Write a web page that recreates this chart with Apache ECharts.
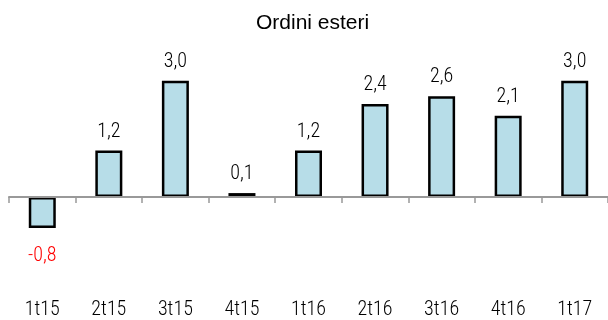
<!DOCTYPE html>
<html>
<head>
<meta charset="utf-8">
<script src="https://cdn.jsdelivr.net/npm/echarts@6/dist/echarts.min.js"></script>
<style>
  html, body { margin: 0; padding: 0; background: #fff; }
  #chart { width: 608px; height: 320px; }
</style>
</head>
<body>
<div id="chart"></div>
<script>
// Quarterly foreign orders, % change
const quarters = ['1t15', '2t15', '3t15', '4t15', '1t16', '2t16', '3t16', '4t16', '1t17'];
const ordiniEsteri = [-0.8, 1.2, 3.0, 0.1, 1.2, 2.4, 2.6, 2.1, 3.0];

const narrow = '"Roboto Condensed", "DejaVu Sans Condensed", sans-serif';
const fmt = v => v.toFixed(1).replace('.', ',');

const chart = echarts.init(document.getElementById('chart'));
chart.setOption({
  animation: false,
  title: {
    text: 'Ordini esteri',
    left: 256,
    top: 13,
    padding: 0,
    textStyle: { fontFamily: 'Arial, "Liberation Sans", sans-serif', fontSize: 21, fontWeight: 'normal', color: '#000' }
  },
  grid: { left: 9, right: -6, top: 61.5, bottom: 26.3 },
  xAxis: [
    {
      // zero line with ticks between categories
      type: 'category',
      data: quarters,
      z: 5,
      axisLine: { onZero: true, lineStyle: { color: '#999', width: 2 } },
      axisTick: { show: true, length: 6, lineStyle: { color: '#999', width: 1.5 } },
      axisLabel: { show: false }
    },
    {
      // quarter names along the bottom
      type: 'category',
      data: quarters,
      position: 'bottom',
      axisLine: { show: false, onZero: false },
      axisTick: { show: false },
      axisLabel: { margin: 6, fontFamily: narrow, fontWeight: 300, fontSize: 20, color: '#000' }
    }
  ],
  yAxis: {
    type: 'value',
    min: -2.5,
    max: 3.5,
    show: false,
    splitLine: { show: false }
  },
  series: [{
    type: 'bar',
    xAxisIndex: 0,
    data: ordiniEsteri.map(v => ({
      value: v,
      label: v < 0
        ? { position: 'bottom', distance: 18, color: '#ff0000' }
        : { position: 'top', distance: 9, color: '#000' }
    })),
    barWidth: 27,
    itemStyle: { color: '#b7dde8', borderColor: '#000', borderWidth: 2.5 },
    label: {
      show: true,
      fontFamily: narrow,
      fontWeight: 300,
      fontSize: 20,
      formatter: p => fmt(p.value)
    }
  }]
});
</script>
</body>
</html>
